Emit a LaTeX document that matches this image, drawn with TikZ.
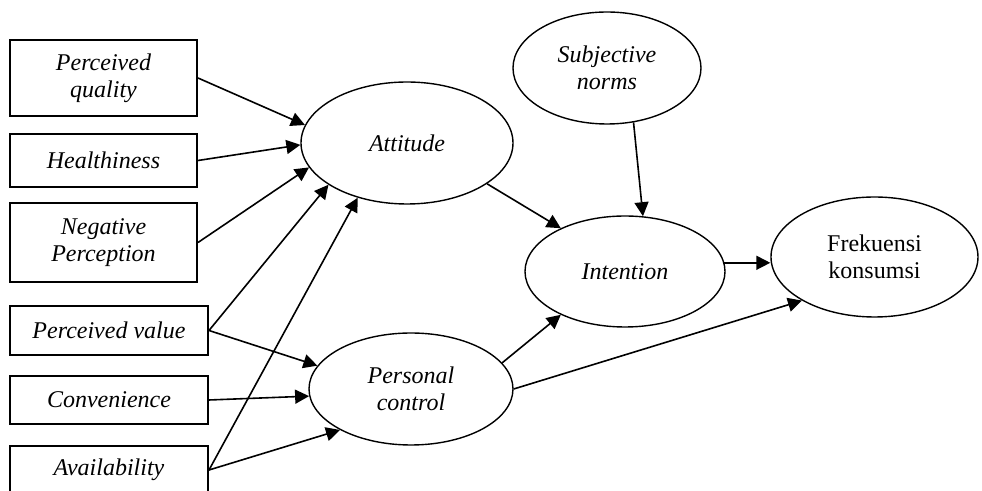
\documentclass[tikz,border=0pt]{standalone}
\usepackage{fontspec}
\setmainfont{Liberation Serif}
\usetikzlibrary{positioning,shapes.geometric,arrows.meta}

\begin{document}
\begin{tikzpicture}[x=0.5pt, y=-0.5pt, thick,
	every node/.style = {black, align = center, inner sep = 0pt,
		font = \fontsize{12}{13.5}\selectfont\itshape},
	factor/.style = {rectangle, draw=black, line width=1pt},
	latent/.style = {ellipse, draw=black, line width=0.7pt},
	link/.style = {line width=0.8pt, -{Triangle[length=7pt,width=7pt]}}]
	
	\useasboundingbox (0,0) rectangle (982,491);
	
	% left column: antecedents
	\node[factor, minimum width=93.5pt, minimum height=38pt]   (quality)  at (103.5,78)    {Perceived\\quality};
	\node[factor, minimum width=93.5pt, minimum height=26.5pt] (health)   at (103.5,160.5) {Healthiness};
	\node[factor, minimum width=93.5pt, minimum height=39.5pt] (negative) at (103.5,242.5) {Negative\\Perception};
	\node[factor, minimum width=99pt, minimum height=24.5pt]   (value)    at (109,330.5)   {Perceived value};
	\node[factor, minimum width=99pt, minimum height=24pt]     (conv)     at (109,400)     {Convenience};
	\node[factor, minimum width=99pt, minimum height=24pt]     (avail)    at (109,470)     {Availability};
	
	% middle: attitude and control
	\node[latent, minimum width=106pt, minimum height=61pt] (att)     at (407,143) {Attitude};
	\node[latent, minimum width=102pt, minimum height=56pt] (control) at (411,389) {Personal\\control};
	
	% right: norms, intention, outcome
	\node[latent, minimum width=94pt, minimum height=56pt]    (norms)  at (607,68)    {Subjective\\norms};
	\node[latent, minimum width=100pt, minimum height=55.5pt] (intent) at (625,271.5) {Intention};
	\node[latent, minimum width=103.5pt, minimum height=60pt, font=\fontsize{12}{13.5}\selectfont\upshape]
		(freq) at (874.5,257) {Frekuensi\\konsumsi};
	
	% connections
	\draw[link] (quality.east)  -- (att.170);
	\draw[link] (health.east)   -- (att.181);
	\draw[link] (negative.east) -- (att.194);
	\draw[link] (value.east)    -- (att.208);
	\draw[link] (avail.east)    -- (att.228);
	\draw[link] (value.east)    -- (control.166);
	\draw[link] (conv.east)     -- (control.184);
	\draw[link] (avail.east)    -- (control.210);
	\draw[link] (att.333)       -- (intent.146);
	\draw[link] (norms.296)     -- (intent.72);
	\draw[link] (control.16)    -- (intent.214);
	\draw[link] (control.east)  -- (freq.211);
	\draw[link] (intent.5)      -- (intent.5 -| freq.west);
\end{tikzpicture}
\end{document}
